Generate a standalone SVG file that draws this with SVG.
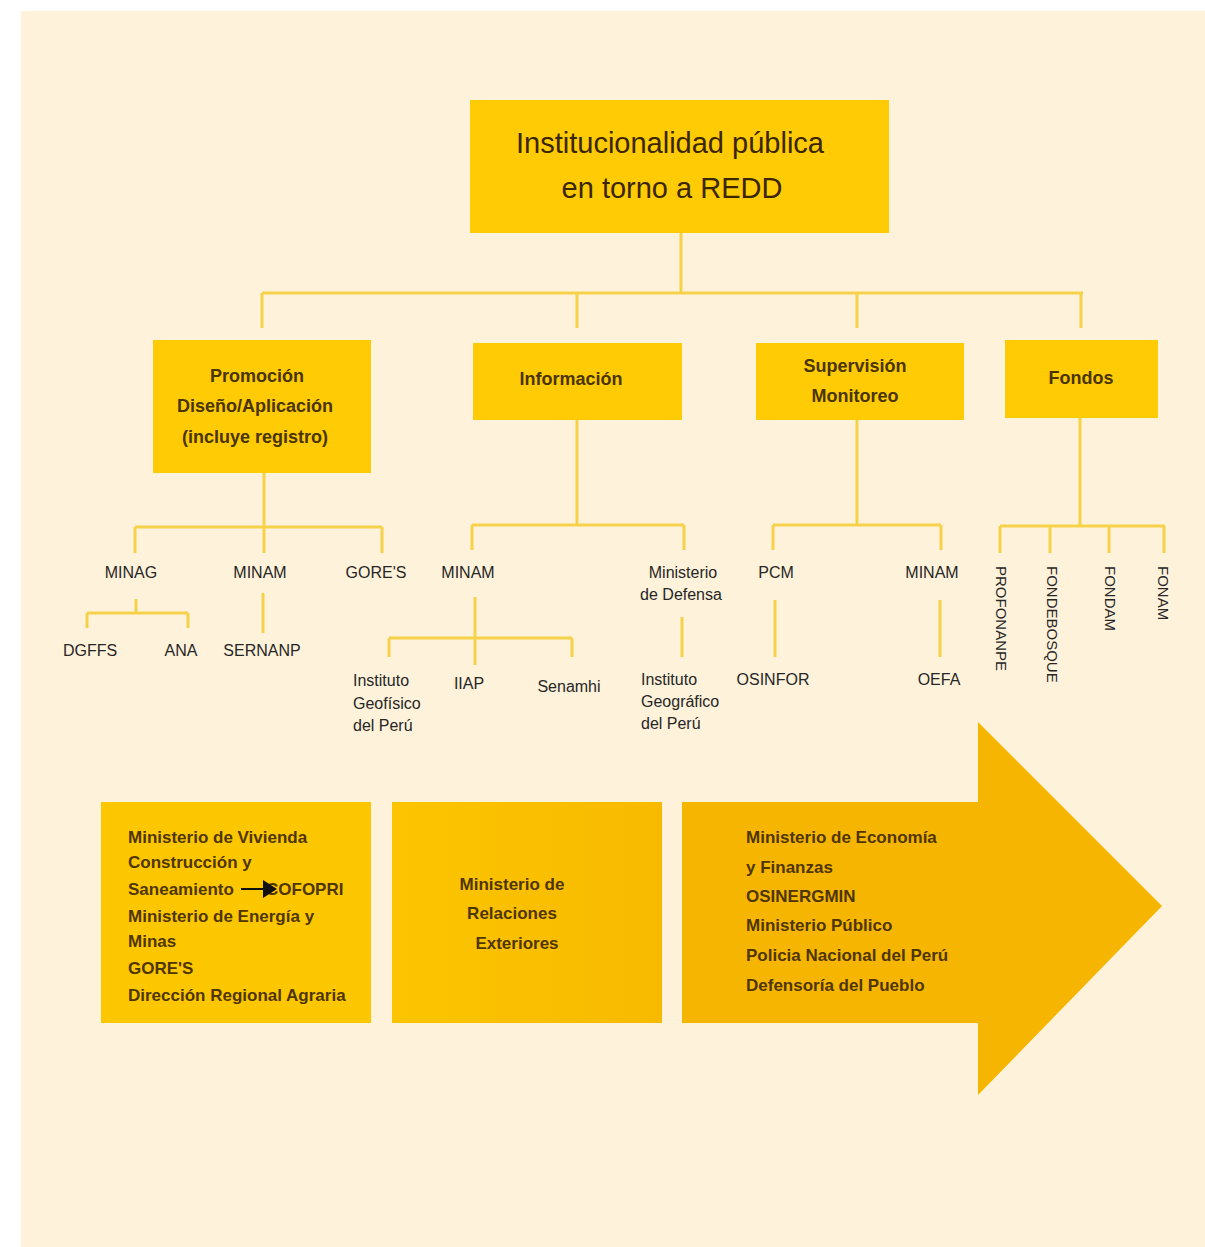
<svg xmlns="http://www.w3.org/2000/svg" width="1205" height="1247" viewBox="0 0 1205 1247">
<defs>
<style>
.box{fill:#FFCB05}
.ln{stroke:#F6D24A;stroke-width:3;fill:none}
.t{font-family:"Liberation Sans",Arial,sans-serif;fill:#3a2c05}
.h{font-size:29px;text-anchor:middle;fill:#3a2600}
.c{font-size:18px;font-weight:bold;text-anchor:middle;fill:#4a3400}
.l{font-size:16px;fill:#262626;text-anchor:middle}
.ls{font-size:16px;fill:#262626}
.v{font-size:15px;fill:#262626}
.b{font-size:17px;font-weight:bold;fill:#4f3500}
.bm{font-size:17px;font-weight:bold;fill:#4f3500;text-anchor:middle}
</style>
<linearGradient id="gm" x1="0" y1="0" x2="1" y2="0">
<stop offset="0" stop-color="#FCC500"/>
<stop offset="1" stop-color="#F8BA00"/>
</linearGradient>
</defs>
<rect x="0" y="0" width="1205" height="1247" fill="#ffffff"/>
<rect x="21" y="11" width="1184" height="1236" fill="#FEF2DA"/>

<g id="connectors">
<path class="ln" d="M681 233V293M262 293H1083M262 293V328M577 293V328M857 293V328M1081 293V328"/>
<path class="ln" d="M264 473V553M135 527H382M135 527V553M382 527V553"/>
<path class="ln" d="M136 599V613M87 613H188M87 613V628M188 613V628M263 593V633"/>
<path class="ln" d="M577 420V525M472 525H684M472 525V550M684 525V550"/>
<path class="ln" d="M475 597V665M389 638H572M389 638V657M572 638V657M682 617V657"/>
<path class="ln" d="M857 420V525M773 525H941M773 525V550M941 525V550M775 600V657M940 600V657"/>
<path class="ln" d="M1080 418V526M1000 526H1165M1000 526V553M1050 526V553M1109 526V553M1164 526V553"/>
</g>

<g id="root">
<rect class="box" x="470" y="100" width="419" height="133"/>
<text class="t h" x="670" y="153">Institucionalidad pública</text>
<text class="t h" x="672" y="198">en torno a REDD</text>
</g>

<g id="promocion">
<rect class="box" x="153" y="340" width="218" height="133"/>
<text class="t c" x="257" y="382">Promoción</text>
<text class="t c" x="255" y="412">Diseño/Aplicación</text>
<text class="t c" x="255" y="443">(incluye registro)</text>
</g>
<g id="informacion">
<rect class="box" x="473" y="343" width="209" height="77"/>
<text class="t c" x="571" y="385">Información</text>
</g>
<g id="supervision">
<rect class="box" x="756" y="343" width="208" height="77"/>
<text class="t c" x="855" y="372">Supervisión</text>
<text class="t c" x="855" y="402">Monitoreo</text>
</g>
<g id="fondos">
<rect class="box" x="1005" y="340" width="153" height="78"/>
<text class="t c" x="1081" y="384">Fondos</text>
</g>

<g id="minag"><text class="t l" x="131" y="578">MINAG</text></g>
<g id="minam1"><text class="t l" x="260" y="578">MINAM</text></g>
<g id="gores1"><text class="t l" x="376" y="578">GORE'S</text></g>
<g id="dgffs"><text class="t l" x="90" y="656">DGFFS</text></g>
<g id="ana"><text class="t l" x="181" y="656">ANA</text></g>
<g id="sernanp"><text class="t l" x="262" y="656">SERNANP</text></g>

<g id="minam2"><text class="t l" x="468" y="578">MINAM</text></g>
<g id="mindef"><text class="t l" x="683" y="578">Ministerio</text><text class="t l" x="681" y="600">de Defensa</text></g>
<g id="igp"><text class="t ls" x="353" y="686">Instituto</text><text class="t ls" x="353" y="709">Geofísico</text><text class="t ls" x="353" y="731">del Perú</text></g>
<g id="iiap"><text class="t l" x="469" y="689">IIAP</text></g>
<g id="senamhi"><text class="t l" x="569" y="692">Senamhi</text></g>
<g id="ign"><text class="t ls" x="641" y="685">Instituto</text><text class="t ls" x="641" y="707">Geográfico</text><text class="t ls" x="641" y="729">del Perú</text></g>

<g id="pcm"><text class="t l" x="776" y="578">PCM</text></g>
<g id="minam3"><text class="t l" x="932" y="578">MINAM</text></g>
<g id="osinfor"><text class="t l" x="773" y="685">OSINFOR</text></g>
<g id="oefa"><text class="t l" x="939" y="685">OEFA</text></g>

<g id="profonanpe"><text class="t v" transform="translate(995.5,566) rotate(90)">PROFONANPE</text></g>
<g id="fondebosque"><text class="t v" transform="translate(1046.5,566) rotate(90)">FONDEBOSQUE</text></g>
<g id="fondam"><text class="t v" transform="translate(1104.5,566) rotate(90)">FONDAM</text></g>
<g id="fonam"><text class="t v" transform="translate(1157.5,566) rotate(90)">FONAM</text></g>

<g id="box-left">
<rect x="101" y="802" width="270" height="221" fill="#FDC700"/>
<text class="t b" x="128" y="843">Ministerio de Vivienda</text>
<text class="t b" x="128" y="868">Construcción y</text>
<text class="t b" x="128" y="895">Saneamiento</text>
<text class="t b" x="266" y="895">COFOPRI</text>
<line x1="241" y1="889" x2="266" y2="889" stroke="#111" stroke-width="2"/>
<polygon points="263,880 277,889 263,898" fill="#111"/>
<text class="t b" x="128" y="922">Ministerio de Energía y</text>
<text class="t b" x="128" y="947">Minas</text>
<text class="t b" x="128" y="974">GORE'S</text>
<text class="t b" x="128" y="1001">Dirección Regional Agraria</text>
</g>

<g id="box-middle">
<rect x="392" y="802" width="270" height="221" fill="url(#gm)"/>
<text class="t bm" x="512" y="890">Ministerio de</text>
<text class="t bm" x="512" y="919">Relaciones</text>
<text class="t bm" x="517" y="949">Exteriores</text>
</g>

<g id="arrow-right">
<polygon points="682,802 978,802 978,722 1162,906 978,1095 978,1023 682,1023" fill="#F6B500"/>
<text class="t b" x="746" y="843">Ministerio de Economía</text>
<text class="t b" x="746" y="873">y Finanzas</text>
<text class="t b" x="746" y="902">OSINERGMIN</text>
<text class="t b" x="746" y="931">Ministerio Público</text>
<text class="t b" x="746" y="961">Policia Nacional del Perú</text>
<text class="t b" x="746" y="991">Defensoría del Pueblo</text>
</g>
</svg>
